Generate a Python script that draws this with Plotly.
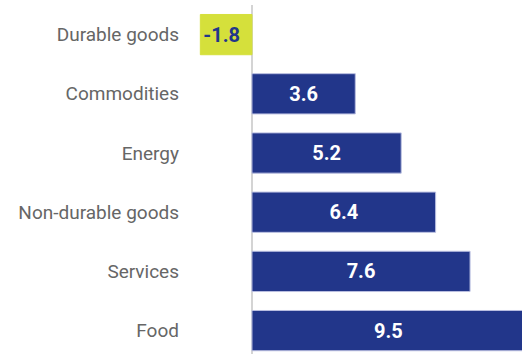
import plotly.graph_objects as go

categories = ["Durable goods", "Commodities", "Energy", "Non-durable goods", "Services", "Food"]
values = [-1.8, 3.6, 5.2, 6.4, 7.6, 9.5]
labels = ["-1.8", "3.6", "5.2", "6.4", "7.6", "9.5"]

BLUE = "#22368a"
YELLOW = "#d5e03b"

neg = [i for i, v in enumerate(values) if v < 0]
pos = [i for i, v in enumerate(values) if v >= 0]

fig = go.Figure()
fig.add_trace(go.Bar(
    y=[categories[i] for i in pos],
    x=[values[i] for i in pos],
    orientation="h",
    marker=dict(color=BLUE, line=dict(color="#b9bee0", width=1)),
    text=[labels[i] for i in pos],
    texttemplate="%{text}",
    textposition="inside",
    insidetextanchor="middle",
    constraintext="none",
    textangle=0,
    textfont=dict(family="Roboto", size=20, color="white", weight="bold"),
    hoverinfo="skip",
))
fig.add_trace(go.Bar(
    y=[categories[i] for i in neg],
    x=[values[i] for i in neg],
    orientation="h",
    marker=dict(color=YELLOW, line=dict(color=YELLOW, width=1)),
    text=[labels[i] for i in neg],
    texttemplate="%{text}",
    textposition="inside",
    insidetextanchor="end",
    constraintext="none",
    textangle=0,
    textfont=dict(family="Roboto", size=20, color=BLUE, weight="bold"),
    hoverinfo="skip",
))

fig.update_layout(
    width=522, height=354,
    margin=dict(l=190, r=0, t=5, b=0),
    paper_bgcolor="white",
    plot_bgcolor="white",
    bargap=0.32,
    barmode="relative",
    showlegend=False,
    font=dict(family="Roboto"),
)
fig.update_xaxes(
    range=[-2.16, 9.41],
    showgrid=False,
    showticklabels=False,
    zeroline=True,
    zerolinecolor="#d4d4d4",
    zerolinewidth=2,
)
fig.update_yaxes(
    categoryorder="array",
    categoryarray=categories,
    range=[5.395, -0.5],
    showgrid=False,
    ticklabelstandoff=10,
    tickfont=dict(family="Roboto", size=19, color="#666666"),
)

fig.write_html("out.html")
